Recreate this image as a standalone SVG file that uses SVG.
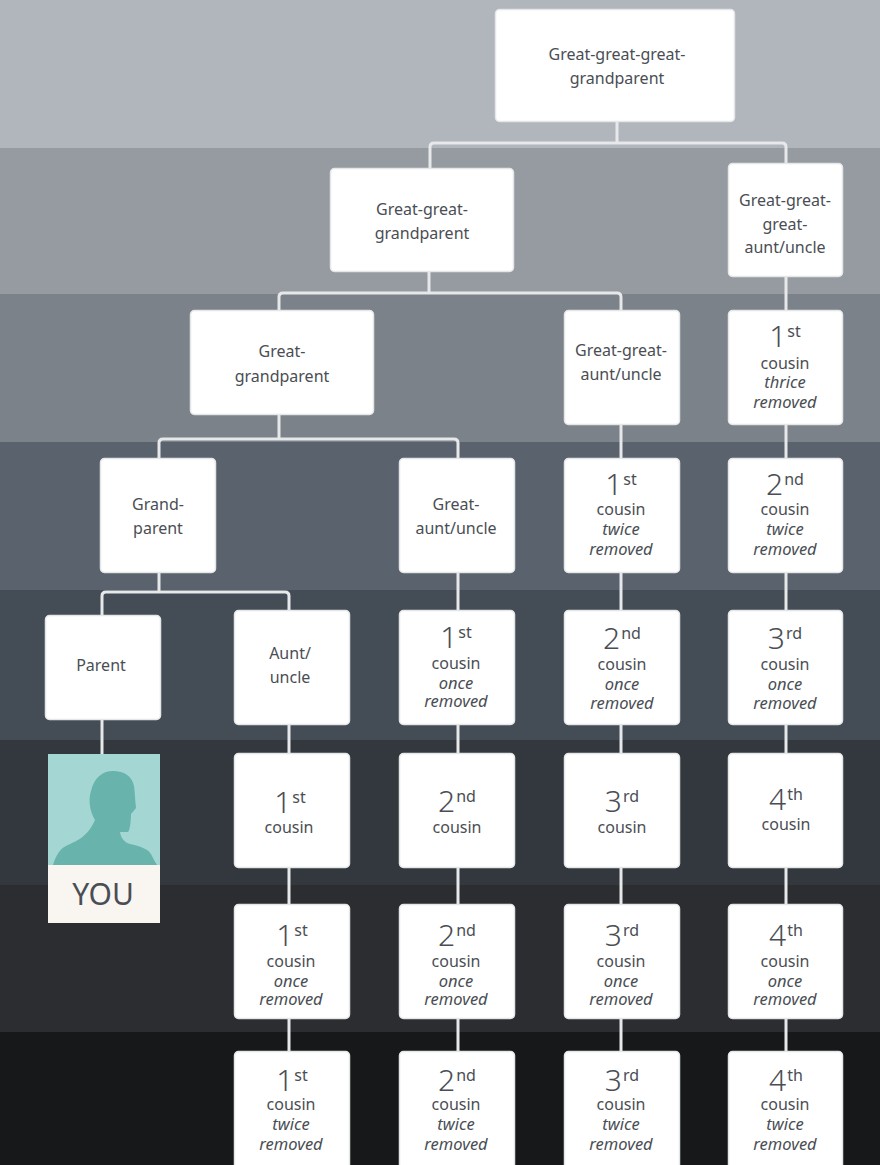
<svg xmlns="http://www.w3.org/2000/svg" width="880" height="1165" viewBox="0 0 880 1165">
<style>
.n{fill:#fff;stroke:#e4e6e8;stroke-width:1.5}
.c{fill:none;stroke:#e6e8ea;stroke-width:3;stroke-linejoin:round}
text{font-family:"Noto Sans","Open Sans","Liberation Sans",sans-serif;fill:#4a4e54;text-anchor:middle;font-size:16px}
.i{font-style:italic;font-size:16.5px}
.d{font-size:30px;font-weight:300}
.s{font-size:16px}
</style>
<g id="bands">
<rect x="0" y="0" width="880" height="148" fill="#b1b5bc"/>
<rect x="0" y="148" width="880" height="146" fill="#969aa1"/>
<rect x="0" y="294" width="880" height="148" fill="#7c828a"/>
<rect x="0" y="442" width="880" height="148" fill="#5a626d"/>
<rect x="0" y="590" width="880" height="150" fill="#444c55"/>
<rect x="0" y="740" width="880" height="145" fill="#33383e"/>
<rect x="0" y="885" width="880" height="147" fill="#2c2d31"/>
<rect x="0" y="1032" width="880" height="133" fill="#16181a"/>
</g>
<g id="connectors" class="c">
<path d="M617 122V143"/>
<path d="M430 168V147Q430 143 434 143H782Q786 143 786 147V163"/>
<path d="M429 272V293"/>
<path d="M279 310V297Q279 293 283 293H617Q621 293 621 297V310"/>
<path d="M786 277V310"/>
<path d="M279 415V439"/>
<path d="M159 458V443Q159 439 163 439H454Q458 439 458 443V458"/>
<path d="M621 425V458M786 425V458"/>
<path d="M159 573V592"/>
<path d="M102 615V596Q102 592 106 592H285Q289 592 289 596V610"/>
<path d="M458 573V610M621 573V610M786 573V610"/>
<path d="M102 720V754"/>
<path d="M289 725V1051M458 725V1051M621 725V1051M786 725V1051"/>
</g>
<g id="n1"><rect class="n" x="495.500" y="9.500" width="239" height="112" rx="4"/><text x="617" y="60">Great-great-great-</text><text x="617" y="84">grandparent</text></g>
<g id="n2"><rect class="n" x="330.500" y="168.500" width="183" height="103" rx="4"/><text x="422" y="215">Great-great-</text><text x="422" y="239">grandparent</text></g>
<g id="n3"><rect class="n" x="728.500" y="163.500" width="114" height="113" rx="4"/><text x="785" y="206">Great-great-</text><text x="785" y="230">great-</text><text x="785" y="253">aunt/uncle</text></g>
<g id="n4"><rect class="n" x="190.500" y="310.500" width="183" height="104" rx="4"/><text x="282" y="357">Great-</text><text x="282" y="382">grandparent</text></g>
<g id="n5"><rect class="n" x="564.500" y="310.500" width="115" height="114" rx="4"/><text x="621" y="356">Great-great-</text><text x="621" y="380">aunt/uncle</text></g>
<g id="n6"><rect class="n" x="728.500" y="310.500" width="114" height="114" rx="4"/><text x="785" y="347"><tspan class="d">1</tspan><tspan class="s" dx="1" dy="-10">st</tspan></text><text x="785" y="369">cousin</text><text class="i" x="785" y="388">thrice</text><text class="i" x="785" y="408">removed</text></g>
<g id="n7"><rect class="n" x="100.500" y="458.500" width="115" height="114" rx="4"/><text x="158" y="510">Grand-</text><text x="158" y="534">parent</text></g>
<g id="n8"><rect class="n" x="399.500" y="458.500" width="115" height="114" rx="4"/><text x="456" y="510">Great-</text><text x="456" y="534">aunt/uncle</text></g>
<g id="n9"><rect class="n" x="564.500" y="458.500" width="115" height="114" rx="4"/><text x="621" y="495"><tspan class="d">1</tspan><tspan class="s" dx="1" dy="-10">st</tspan></text><text x="621" y="515">cousin</text><text class="i" x="621" y="535">twice</text><text class="i" x="621" y="555">removed</text></g>
<g id="n10"><rect class="n" x="728.500" y="458.500" width="114" height="114" rx="4"/><text x="785" y="495"><tspan class="d">2</tspan><tspan class="s" dx="1" dy="-10">nd</tspan></text><text x="785" y="515">cousin</text><text class="i" x="785" y="535">twice</text><text class="i" x="785" y="555">removed</text></g>
<g id="n11"><rect class="n" x="45.500" y="615.500" width="115" height="104" rx="4"/><text x="101" y="671">Parent</text></g>
<g id="n12"><rect class="n" x="234.500" y="610.500" width="115" height="114" rx="4"/><text x="290" y="659">Aunt/</text><text x="290" y="683">uncle</text></g>
<g id="n13"><rect class="n" x="399.500" y="610.500" width="115" height="114" rx="4"/><text x="456" y="648"><tspan class="d">1</tspan><tspan class="s" dx="1" dy="-10">st</tspan></text><text x="456" y="669">cousin</text><text class="i" x="456" y="689">once</text><text class="i" x="456" y="707">removed</text></g>
<g id="n14"><rect class="n" x="564.500" y="610.500" width="115" height="114" rx="4"/><text x="622" y="649"><tspan class="d">2</tspan><tspan class="s" dx="1" dy="-10">nd</tspan></text><text x="622" y="670">cousin</text><text class="i" x="622" y="690">once</text><text class="i" x="622" y="709">removed</text></g>
<g id="n15"><rect class="n" x="728.500" y="610.500" width="114" height="114" rx="4"/><text x="785" y="649"><tspan class="d">3</tspan><tspan class="s" dx="1" dy="-10">rd</tspan></text><text x="785" y="670">cousin</text><text class="i" x="785" y="690">once</text><text class="i" x="785" y="709">removed</text></g>
<g id="you">
<rect x="48" y="754" width="112" height="112" fill="#a4d6d3"/>
<path d="M53 865C56 855 60 849 66 846C76 841 87 838 95 820C90 812 88 800 91 791C94 778 102 771 113 771C124 771 132 776 134 786C135 793 135 800 136 808L131 814C131 820 130 830 128 832L120 832C121 838 124 842 130 844C140 846 148 849 151 854C153 858 155 862 157 865Z" fill="#69b3ad"/>
<rect x="48" y="865" width="112" height="58" fill="#f9f6f2"/>
<text x="103" y="905" style="font-size:30px">YOU</text>
</g>
<g id="n16"><rect class="n" x="234.500" y="753.500" width="115" height="114" rx="4"/><text x="290" y="813"><tspan class="d">1</tspan><tspan class="s" dx="1" dy="-10">st</tspan></text><text x="289" y="833">cousin</text></g>
<g id="n17"><rect class="n" x="399.500" y="753.500" width="115" height="114" rx="4"/><text x="457" y="812"><tspan class="d">2</tspan><tspan class="s" dx="1" dy="-10">nd</tspan></text><text x="457" y="833">cousin</text></g>
<g id="n18"><rect class="n" x="564.500" y="753.500" width="115" height="114" rx="4"/><text x="622" y="812"><tspan class="d">3</tspan><tspan class="s" dx="1" dy="-10">rd</tspan></text><text x="622" y="833">cousin</text></g>
<g id="n19"><rect class="n" x="728.500" y="753.500" width="114" height="114" rx="4"/><text x="786" y="810"><tspan class="d">4</tspan><tspan class="s" dx="1" dy="-10">th</tspan></text><text x="786" y="830">cousin</text></g>
<g id="n20"><rect class="n" x="234.500" y="904.500" width="115" height="114" rx="4"/><text x="292" y="946"><tspan class="d">1</tspan><tspan class="s" dx="1" dy="-10">st</tspan></text><text x="291" y="967">cousin</text><text class="i" x="291" y="987">once</text><text class="i" x="291" y="1005">removed</text></g>
<g id="n21"><rect class="n" x="399.500" y="904.500" width="115" height="114" rx="4"/><text x="457" y="946"><tspan class="d">2</tspan><tspan class="s" dx="1" dy="-10">nd</tspan></text><text x="456" y="967">cousin</text><text class="i" x="456" y="987">once</text><text class="i" x="456" y="1005">removed</text></g>
<g id="n22"><rect class="n" x="564.500" y="904.500" width="115" height="114" rx="4"/><text x="622" y="946"><tspan class="d">3</tspan><tspan class="s" dx="1" dy="-10">rd</tspan></text><text x="621" y="967">cousin</text><text class="i" x="621" y="987">once</text><text class="i" x="621" y="1005">removed</text></g>
<g id="n23"><rect class="n" x="728.500" y="904.500" width="114" height="114" rx="4"/><text x="786" y="946"><tspan class="d">4</tspan><tspan class="s" dx="1" dy="-10">th</tspan></text><text x="785" y="967">cousin</text><text class="i" x="785" y="987">once</text><text class="i" x="785" y="1005">removed</text></g>
<g id="n24"><rect class="n" x="234.500" y="1051.500" width="115" height="118" rx="4"/><text x="292" y="1091"><tspan class="d">1</tspan><tspan class="s" dx="1" dy="-10">st</tspan></text><text x="291" y="1110">cousin</text><text class="i" x="291" y="1130">twice</text><text class="i" x="291" y="1150">removed</text></g>
<g id="n25"><rect class="n" x="399.500" y="1051.500" width="115" height="118" rx="4"/><text x="457" y="1091"><tspan class="d">2</tspan><tspan class="s" dx="1" dy="-10">nd</tspan></text><text x="456" y="1110">cousin</text><text class="i" x="456" y="1130">twice</text><text class="i" x="456" y="1150">removed</text></g>
<g id="n26"><rect class="n" x="564.500" y="1051.500" width="115" height="118" rx="4"/><text x="622" y="1091"><tspan class="d">3</tspan><tspan class="s" dx="1" dy="-10">rd</tspan></text><text x="621" y="1110">cousin</text><text class="i" x="621" y="1130">twice</text><text class="i" x="621" y="1150">removed</text></g>
<g id="n27"><rect class="n" x="728.500" y="1051.500" width="114" height="118" rx="4"/><text x="786" y="1091"><tspan class="d">4</tspan><tspan class="s" dx="1" dy="-10">th</tspan></text><text x="785" y="1110">cousin</text><text class="i" x="785" y="1130">twice</text><text class="i" x="785" y="1150">removed</text></g>
</svg>
